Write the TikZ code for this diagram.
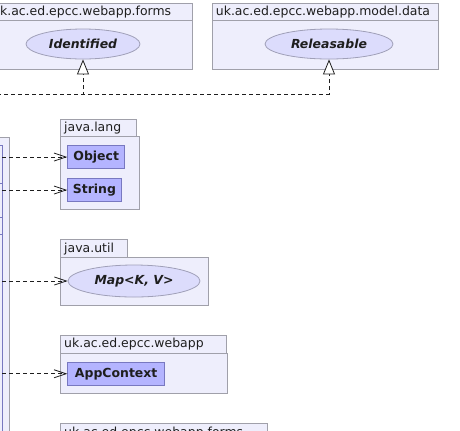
\documentclass[tikz,border=0pt]{standalone}
\usepackage{fontspec}
\setmainfont{DejaVu Sans}
\usepackage{xcolor}
\usetikzlibrary{arrows.meta,calc,positioning,shapes.geometric}

\definecolor{pkgfill}{HTML}{EEEEFC}
\definecolor{pkgline}{HTML}{A0A0AA}
\definecolor{clsfill}{HTML}{B4B4FF}
\definecolor{clsline}{HTML}{7878C0}
\definecolor{iffill}{HTML}{DCDCFC}
\definecolor{ifline}{HTML}{A0A0B8}
\definecolor{txt}{HTML}{1E1E1E}

\begin{document}
\begin{tikzpicture}[x=1bp,y=-1bp,>={Straight Barb[length=12bp,width=8bp]},
  font=\fontsize{12.5}{15}\selectfont,text=txt,
  pkgbody/.style={draw=pkgline,fill=pkgfill,line width=0.8bp,anchor=north west,inner sep=0pt},
  pkgname/.style={anchor=west,inner sep=0pt,xshift=4bp},
  cls/.style={draw=clsline,fill=clsfill,line width=0.8bp,anchor=north west,inner sep=0pt,
    font=\fontsize{12.5}{15}\selectfont\bfseries},
  iface/.style={ellipse,draw=ifline,fill=iffill,line width=0.8bp,inner sep=0pt,
    font=\fontsize{12.5}{15}\selectfont\bfseries\itshape},
  dep/.style={->,draw=txt,line width=0.8bp,dash pattern=on 4bp off 3bp},
  real/.style={-{Triangle[open,length=15bp,width=12bp,fill=white]},draw=txt,line width=0.8bp,
    dash pattern=on 4bp off 3bp}]
  \useasboundingbox (0,0) rectangle (460,430);
  \clip (0,0) rectangle (460,430);
  % packages along the top
  \node[pkgbody,minimum width=203.7bp,minimum height=17.3bp] (formstab) at (-12,2.7) {};
  \node[pkgname] (formsname) at (formstab.west) {uk.ac.ed.epcc.webapp.forms};
  \node[pkgbody,minimum width=203.7bp,minimum height=49bp] (forms) at (-12,20) {};
  \node[pkgbody,minimum width=226.3bp,minimum height=17.3bp] (datatab) at (211.7,2.7) {};
  \node[pkgname] (dataname) at (datatab.west) {uk.ac.ed.epcc.webapp.model.data};
  \node[pkgbody,minimum width=226.3bp,minimum height=49bp] (data) at (211.7,20) {};
  \node[iface,minimum width=114bp,minimum height=30bp] (ident) at (83,44) {Identified};
  \node[iface,minimum width=128bp,minimum height=30bp] (rel) at (329,44) {Releasable};
  % the class on the left
  \node[pkgbody,minimum width=60bp,minimum height=320bp] (userpkg) at (-50.7,136.7) {};
  \node[pkgbody,draw=clsline,minimum width=51.5bp,minimum height=300bp] (user) at (-50,145) {};
  \foreach \y in {183,217,234} {\draw[clsline,line width=0.8bp] (user.west |- 0,\y) -- (user.east |- 0,\y);}
  % java.lang
  \node[pkgbody,minimum width=75.7bp,minimum height=17bp] (langtab) at (60,119.3) {};
  \node[pkgname] (langname) at (langtab.west) {java.lang};
  \node[pkgbody,minimum width=79.3bp,minimum height=73bp] (lang) at (60,136.3) {};
  \node[cls,minimum width=57bp,minimum height=23.3bp] (obj) at (67.3,145) {Object};
  \node[cls,minimum width=53.4bp,minimum height=22.7bp] (str) at (67.3,178.3) {String};
  % java.util
  \node[pkgbody,minimum width=67bp,minimum height=18bp] (utiltab) at (60,239.3) {};
  \node[pkgname] (utilname) at (utiltab.west) {java.util};
  \node[pkgbody,minimum width=147.7bp,minimum height=47.7bp] (util) at (60,257.3) {};
  \node[iface,minimum width=132bp,minimum height=32bp] (map) at (134,281) {Map<K, V>};
  % uk.ac.ed.epcc.webapp
  \node[pkgbody,minimum width=165.7bp,minimum height=18.3bp] (apptab) at (60,335) {};
  \node[pkgname] (appname) at (apptab.west) {uk.ac.ed.epcc.webapp};
  \node[pkgbody,minimum width=166.7bp,minimum height=39.4bp] (app) at (60,353.3) {};
  \node[cls,minimum width=97bp,minimum height=23.3bp] (ctx) at (67.3,361.7) {AppContext};
  % uk.ac.ed.epcc.webapp.forms, cut off at the bottom
  \node[pkgbody,minimum width=206.7bp,minimum height=18bp] (formstab2) at (60,423.3) {};
  \node[pkgname] (formsname2) at (formstab2.west) {uk.ac.ed.epcc.webapp.forms};
  % connectors
  \coordinate (realize) at (-10,94);
  \draw[real] (realize) -| (ident.south);
  \draw[real] (realize) -| (rel.south);
  \draw[dep] (user.east |- obj.west) -- (obj.west);
  \draw[dep] (user.east |- str.west) -- (str.west);
  \draw[dep] (user.east |- map.west) -- (map.west);
  \draw[dep] (user.east |- ctx.west) -- (ctx.west);
\end{tikzpicture}
\end{document}
